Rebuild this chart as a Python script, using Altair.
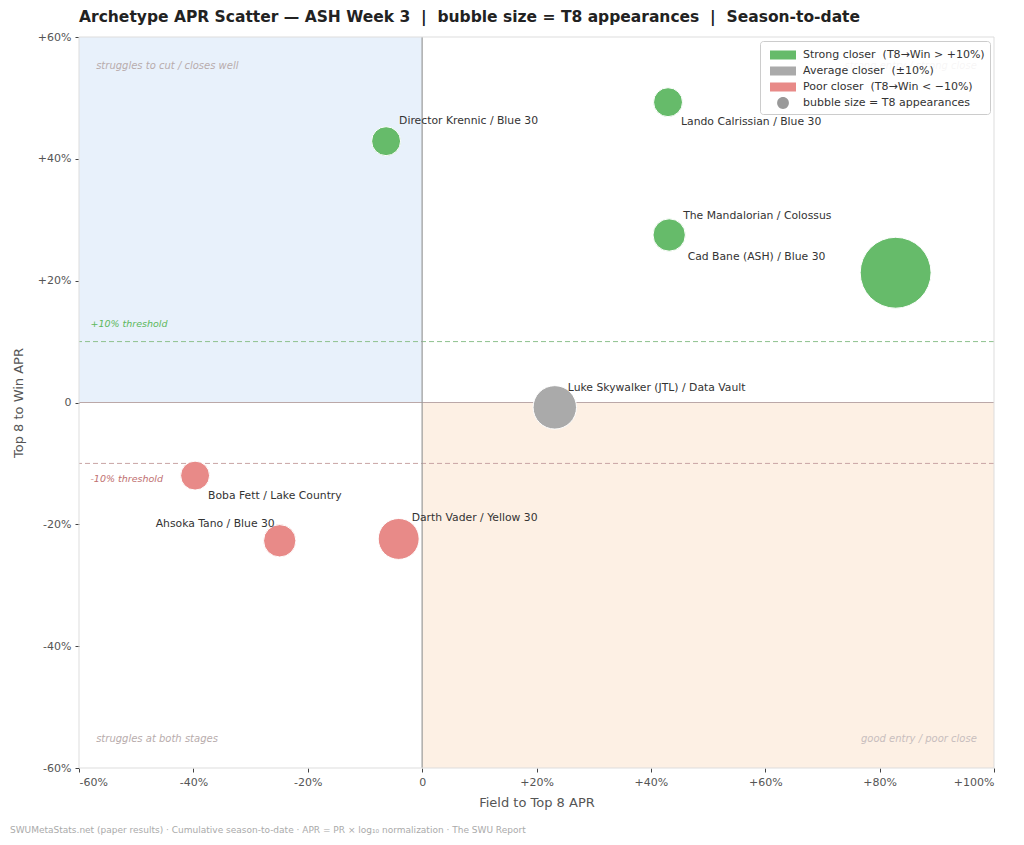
import altair as alt
import pandas as pd

NB = "\u00a0"

# ---- data ----
names = [
    "Director Krennic / Blue 30",
    "Lando Calrissian / Blue 30",
    "The Mandalorian / Colossus",
    "Cad Bane (ASH) / Blue 30",
    "Luke Skywalker (JTL) / Data Vault",
    "Boba Fett / Lake Country",
    "Ahsoka Tano / Blue 30",
    "Darth Vader / Yellow 30",
]
field_to_t8 = [-6.3, 43.0, 43.2, 82.8, 23.2, -39.7, -24.9, -4.1]
t8_to_win = [42.9, 49.3, 27.5, 21.3, -0.8, -12.0, -22.7, -22.4]
t8_appearances = [4, 4, 5, 24, 9, 4, 5, 8]

strong = "Strong closer" + NB + NB + "(T8→Win > +10%)"
average = "Average closer" + NB + NB + "(±10%)"
poor = "Poor closer" + NB + NB + "(T8→Win < −10%)"
bubble_note = "bubble size = T8 appearances"
closer = [strong] * 4 + [average] + [poor] * 3

# label offsets in pixels (annotation placement)
label_dx = [13, 13, 14, -208, 13, 13, -124, 13]
label_dy = [-20, 20, -19, -16, -19, 20, -17, -21]

legend_items = [strong, average, poor, bubble_note]
legend_colors = ["#66bb6a", "#aaaaaa", "#e88a88", "#999999"]
rect_path = "M-1.5,-0.52H1.5V0.52H-1.5Z"
circle_path = "M0.68,0A0.68,0.68 0 1,1 -0.68,0A0.68,0.68 0 1,1 0.68,0Z"
legend_shapes = [rect_path, rect_path, rect_path, circle_path]

corner_text = ["struggles to cut / closes well", "strong entry / strong close",
               "struggles at both stages", "good entry / poor close"]
corner_x = [-57, 97, -57, 97]
corner_y = [55.2, 55.2, -55.3, -55.3]
corner_align = ["left", "right", "left", "right"]

title_text = ("Archetype APR Scatter — ASH Week 3" + NB + NB + "|" + NB + NB +
              "bubble size = T8 appearances" + NB + NB + "|" + NB + NB + "Season-to-date")
footer_text = ("SWUMetaStats.net (paper results) · Cumulative season-to-date · "
               "APR = PR × log₁₀ normalization · The SWU Report")

df = pd.DataFrame({
    "name": names, "fx": field_to_t8, "wy": t8_to_win, "n": t8_appearances, "cat": closer,
})

X = alt.Scale(domain=[-60, 100], nice=False, zero=False)
Y = alt.Scale(domain=[-60, 60], nice=False, zero=False)
fmt = "datum.value > 0 ? '+' + datum.value + '%' : (datum.value < 0 ? datum.value + '%' : '0')"

xaxis = alt.Axis(values=list(range(-60, 101, 20)), labelExpr=fmt, title="Field to Top 8 APR",
                 grid=False, domain=False, tickColor="#444", tickSize=4, labelColor="#555",
                 labelFontSize=11, titleFontSize=13, titleColor="#555", titleFontWeight="normal",
                 labelPadding=4, titlePadding=9)
yaxis = alt.Axis(values=list(range(-60, 61, 20)), labelExpr=fmt, title="Top 8 to Win APR",
                 grid=False, domain=False, tickColor="#444", tickSize=4, labelColor="#555",
                 labelFontSize=11, titleFontSize=13, titleColor="#555", titleFontWeight="normal",
                 labelPadding=4, titlePadding=12)

base = alt.Chart(df)

# quadrant shading
quad = pd.DataFrame({"x1": [-60, 0], "x2": [0, 100], "y1": [0, -60], "y2": [60, 0],
                     "c": ["#e8f1fb", "#fdf0e4"]})
shade = alt.Chart(quad).mark_rect().encode(
    x=alt.X("x1:Q", scale=X, axis=xaxis), x2="x2:Q",
    y=alt.Y("y1:Q", scale=Y, axis=yaxis), y2="y2:Q",
    fill=alt.Fill("c:N", scale=None),
)

thr_up = alt.Chart(pd.DataFrame({"y": [10]})).mark_rule(
    strokeDash=[5, 3], strokeWidth=1, color="#8fc28f").encode(y=alt.Y("y:Q", scale=Y))
thr_dn = alt.Chart(pd.DataFrame({"y": [-10]})).mark_rule(
    strokeDash=[5, 3], strokeWidth=1, color="#c8a4a4").encode(y=alt.Y("y:Q", scale=Y))
zero_h = alt.Chart(pd.DataFrame({"y": [0]})).mark_rule(color="#bba8a8", strokeWidth=1.2).encode(
    y=alt.Y("y:Q", scale=Y))
zero_v = alt.Chart(pd.DataFrame({"x": [0]})).mark_rule(color="#999999", strokeWidth=1.2).encode(
    x=alt.X("x:Q", scale=X))

thr_lab = alt.Chart(pd.DataFrame({"x": [-58, -58], "y": [12.9, -12.6],
                                  "t": ["+10% threshold", "-10% threshold"],
                                  "c": ["#5cb85c", "#c07070"]})).mark_text(
    align="left", baseline="middle", fontStyle="italic", fontSize=9.5, font="DejaVu Sans").encode(
    x=alt.X("x:Q", scale=X), y=alt.Y("y:Q", scale=Y), text="t:N", color=alt.Color("c:N", scale=None))

corners = alt.Chart(pd.DataFrame({"x": corner_x, "y": corner_y, "t": corner_text,
                                  "a": corner_align})).encode(
    x=alt.X("x:Q", scale=X), y=alt.Y("y:Q", scale=Y), text="t:N")
corners_l = corners.transform_filter("datum.a == 'left'").mark_text(
    align="left", baseline="middle", fontStyle="italic", fontSize=10, font="DejaVu Sans", color="#b8acac")
corners_r = corners.transform_filter("datum.a == 'right'").mark_text(
    align="right", baseline="middle", fontStyle="italic", fontSize=10, font="DejaVu Sans", color="#c8bebe")

bubbles = base.mark_circle(opacity=1, stroke="white", strokeWidth=1).encode(
    x=alt.X("fx:Q", scale=X),
    y=alt.Y("wy:Q", scale=Y),
    size=alt.Size("n:Q", scale=alt.Scale(domain=[0, 24], range=[0, 5027]), legend=None),
    color=alt.Color("cat:N", scale=alt.Scale(domain=legend_items, range=legend_colors), legend=None),
)

label_layers = []
for nm, ddx, ddy in zip(names, label_dx, label_dy):
    label_layers.append(
        base.transform_filter(alt.datum.name == nm).mark_text(
            align="left", baseline="middle", fontSize=10.8, font="DejaVu Sans",
            color="#333333", dx=ddx, dy=ddy).encode(
            x=alt.X("fx:Q", scale=X), y=alt.Y("wy:Q", scale=Y), text="name:N")
    )

leg = alt.Legend(title=None, orient="top-right", offset=4,
                 labelFontSize=11, labelColor="#333", labelFont="DejaVu Sans",
                 symbolOpacity=1, symbolSize=300, symbolStrokeWidth=0, symbolOffset=9,
                 fillColor="rgba(255,255,255,0.85)", strokeColor="#cccccc",
                 cornerRadius=3, padding=5, rowPadding=2, labelOffset=11, labelLimit=400)
leg_df = pd.DataFrame({"cat": legend_items})
legend_layer = alt.Chart(leg_df).mark_point(filled=True, opacity=0).encode(
    x=alt.value(0), y=alt.value(0),
    color=alt.Color("cat:N", scale=alt.Scale(domain=legend_items, range=legend_colors),
                    sort=legend_items, legend=leg),
    shape=alt.Shape("cat:N", scale=alt.Scale(domain=legend_items, range=legend_shapes),
                    sort=legend_items, legend=leg),
)

footer = alt.Chart(pd.DataFrame({"t": [footer_text]})).mark_text(
    align="left", baseline="middle", fontSize=9, font="DejaVu Sans", color="#aaaaaa").encode(
    x=alt.value(-69), y=alt.value(793), text="t:N")

frame = alt.Chart(pd.DataFrame({"x1": [-60], "x2": [100], "y1": [-60], "y2": [60]})).mark_rect(
    fill=None, stroke="#dddddd", strokeWidth=1).encode(
    x=alt.X("x1:Q", scale=X), x2="x2:Q", y=alt.Y("y1:Q", scale=Y), y2="y2:Q")

chart = alt.layer(
    shade, thr_up, thr_dn, zero_h, zero_v, frame, thr_lab, corners_l, corners_r, bubbles,
    *label_layers, legend_layer, footer
).resolve_scale(color="independent", shape="independent").properties(
    width=915, height=731,
    title=alt.TitleParams(title_text, anchor="start", frame="group", fontSize=15.5, font="DejaVu Sans",
                          fontWeight="bold", color="#222222", offset=6),
    autosize=alt.AutoSizeParams(type="none"),
    padding={"left": 71, "top": 29, "right": 22, "bottom": 72},
).configure_view(stroke=None).configure_axis(labelFont="DejaVu Sans", titleFont="DejaVu Sans")

chart.save("out.html", embed_options={"renderer": "svg", "actions": False})
